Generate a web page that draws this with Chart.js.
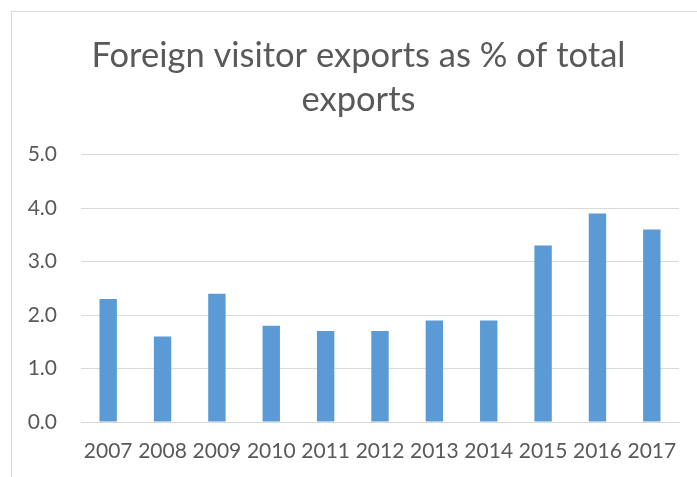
<!DOCTYPE html>
<html>
<head>
<meta charset="utf-8">
<script src="https://cdn.jsdelivr.net/npm/chart.js@4"></script>
<style>
  html, body { margin: 0; padding: 0; background: #fff; overflow: hidden; }
  #frame {
    position: absolute; left: 11px; top: 11px; width: 740px; height: 500px;
    border-left: 1px solid #d9d9d9; border-top: 1px solid #d9d9d9;
  }
  #wrap { position: absolute; left: 0; top: 0; width: 717px; height: 477px; }
</style>
</head>
<body>
<div id="frame"></div>
<div id="wrap"><canvas id="chart"></canvas></div>
<script>
// Années et part des exportations liées aux visiteurs étrangers (%)
const years = ["2007", "2008", "2009", "2010", "2011", "2012", "2013", "2014", "2015", "2016", "2017"];
const shareValues = [2.3, 1.6, 2.4, 1.8, 1.7, 1.7, 1.9, 1.9, 3.3, 3.9, 3.6];
const titleLines = ["Foreign visitor exports as % of total", "exports"];
const yTicks = [0, 1, 2, 3, 4, 5];

const textColor = "#595959";
const gridColor = "#d9d9d9";
const fontFamily = "Lato, 'Open Sans', sans-serif";

// Le titre est centré sur toute la largeur du canvas, pas seulement entre les marges
const fullWidthTitle = {
  id: "fullWidthTitle",
  afterLayout(chart) {
    const t = chart.titleBlock;
    if (t) {
      t.left = 0;
      t.right = chart.width;
    }
  },
};

const ctx = document.getElementById("chart").getContext("2d");
new Chart(ctx, {
  type: "bar",
  data: {
    labels: years,
    datasets: [
      {
        data: shareValues,
        backgroundColor: "#5b9bd5",
        borderWidth: 0,
        categoryPercentage: 1,
        barPercentage: 0.32,
      },
    ],
  },
  options: {
    responsive: true,
    maintainAspectRatio: false,
    animation: false,
    layout: {
      padding: { left: 28, right: 38, top: 33, bottom: 0 },
    },
    plugins: {
      legend: { display: false },
      tooltip: { enabled: false },
      title: {
        display: true,
        text: titleLines,
        color: textColor,
        font: { family: fontFamily, size: 34.5, weight: "normal", lineHeight: 1.3 },
        padding: { top: 0, bottom: 32 },
      },
    },
    scales: {
      x: {
        grid: { display: false, drawTicks: false },
        border: { display: true, color: gridColor, width: 1 },
        afterFit: (axis) => {
          axis.height = 55;
        },
        ticks: {
          color: textColor,
          font: { family: fontFamily, size: 21 },
          padding: 17,
          maxRotation: 0,
        },
      },
      y: {
        min: 0,
        max: 5,
        afterBuildTicks: (axis) => {
          axis.ticks = yTicks.map((v) => ({ value: v }));
        },
        afterFit: (axis) => {
          axis.width = 53;
        },
        grid: { color: gridColor, lineWidth: 1, drawTicks: false },
        border: { display: false },
        ticks: {
          color: textColor,
          font: { family: fontFamily, size: 21 },
          padding: 24,
          callback: (v) => Number(v).toFixed(1),
        },
      },
    },
  },
  plugins: [fullWidthTitle],
});
</script>
</body>
</html>
